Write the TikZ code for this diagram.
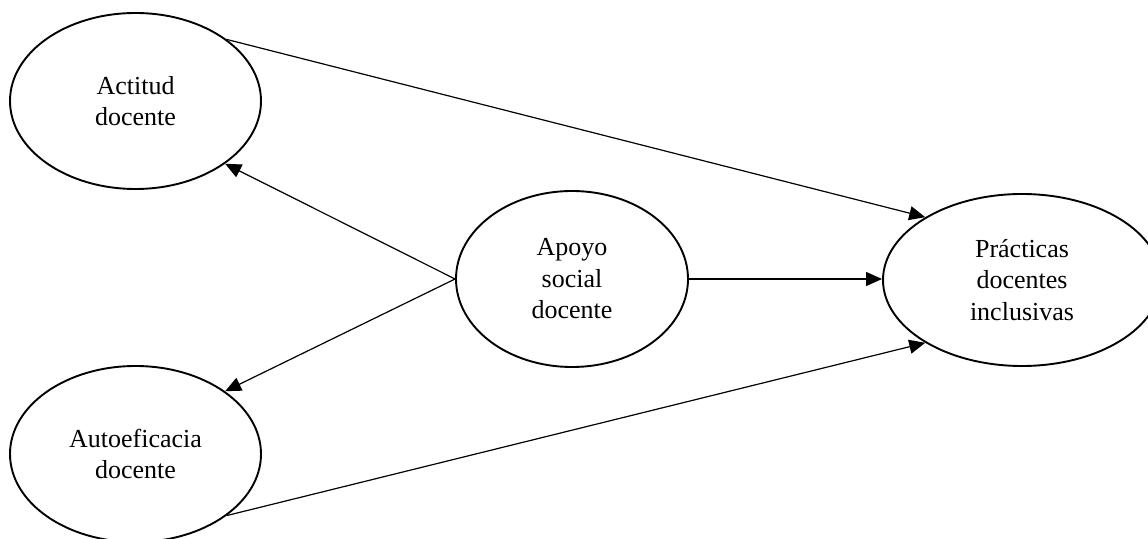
\documentclass[tikz,border=0pt]{standalone}
\usepackage{fontspec}
\setmainfont{Liberation Serif}
\usetikzlibrary{shapes.geometric,arrows.meta}
\tikzset{
  latent/.style={ellipse, draw, line width=1.9pt, inner sep=0pt, align=center,
    font=\fontsize{26}{31.5}\selectfont},
  conn/.style={line width=1.2pt, -{Triangle[length=16pt,width=14pt]}},
  plainconn/.style={line width=1.2pt}
}
\begin{document}
\begin{tikzpicture}[x=1pt,y=1pt]
\useasboundingbox (0,0) rectangle (1148,538);
\node[latent, minimum width=251pt, minimum height=176pt] (act) at (135.5,437) {Actitud\\docente};
\node[latent, minimum width=251pt, minimum height=176pt] (auto) at (135.5,84) {Autoeficacia\\docente};
\node[latent, minimum width=232pt, minimum height=176pt] (apoyo) at (572,259) {Apoyo\\social\\docente};
\node[latent, minimum width=278pt, minimum height=172pt] (prac) at (1022,258) {Prácticas\\docentes\\inclusivas};
\draw[conn] (act.34) -- (prac.147);
\draw[conn] (auto.-34) -- (prac.213);
\draw[conn] (apoyo.west) -- (act.-35);
\draw[conn] (apoyo.west) -- (auto.35);
\draw[conn] (apoyo.east) -- (apoyo.east -| prac.west);
\end{tikzpicture}
\end{document}
